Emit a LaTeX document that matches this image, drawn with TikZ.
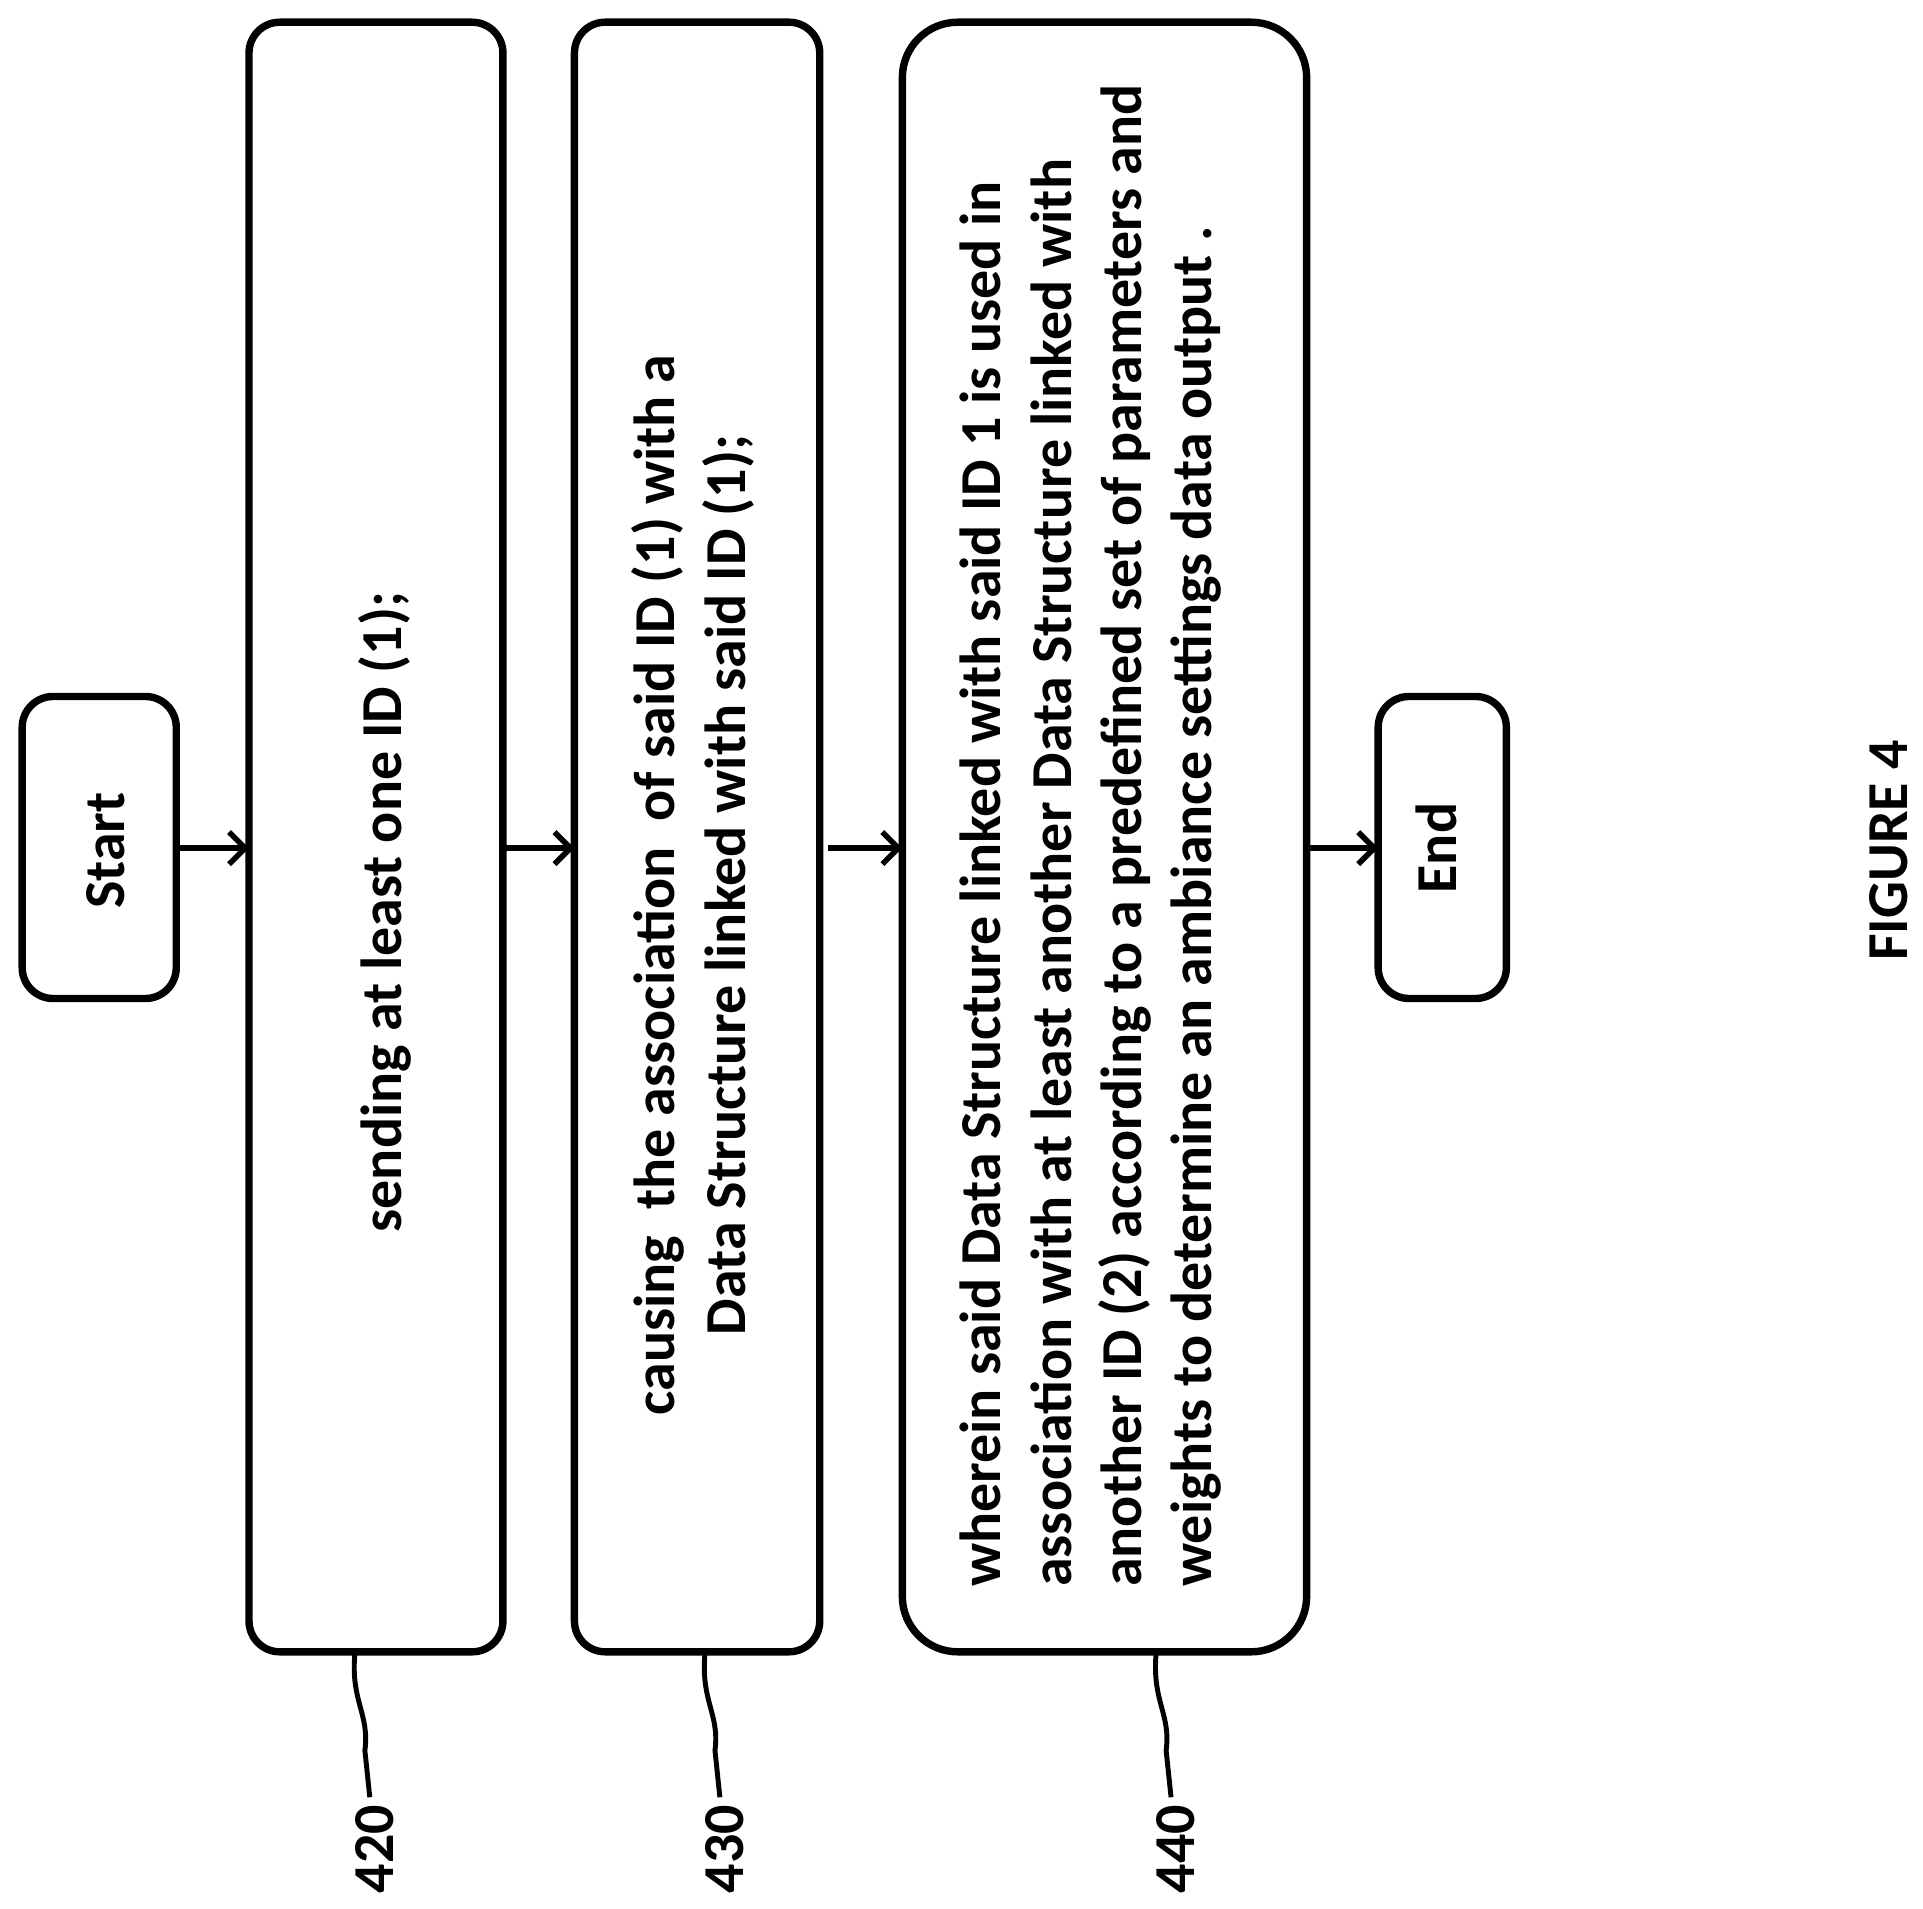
\documentclass[tikz,border=0pt]{standalone}
\usepackage{fontspec}
\setmainfont{Carlito}
\usetikzlibrary{arrows.meta}
\begin{document}
\begin{tikzpicture}[x=1pt,y=-1pt,line width=6pt,
  box/.style={draw,rounded corners=25pt},
  txt/.style={font=\fontsize{47}{57}\selectfont\bfseries,rotate=90},
  arr/.style={->,line width=4.5pt,>={Straight Barb[length=13pt,width=26pt,line width=4.5pt]}}]
\useasboundingbox (0,0) rectangle (1560,1548);
\draw[box] (18,565) rectangle (143,810);
\node[txt] (start) at (86,690) {Start};
\draw[box] (202,18) rectangle (408,1340);
\node[txt] (t420) at (312,740) {sending at least one ID (1);};
\draw[box] (466,18) rectangle (665,1340);
\node[txt,align=center] (t430) at (562,718) {causing\ \ the association\ \ of said ID (1) with a\\Data Structure linked with said ID (1);};
\draw[box,rounded corners=45pt] (732,18) rectangle (1060,1340);
\node[txt,align=left] (t440) at (885,678) {wherein said Data Structure linked with said ID 1 is used in\\association with at least another Data Structure linked with\\another ID (2) according to a predefined set of parameters and\\weights to determine an ambiance settings data output .};
\draw[box] (1118,565) rectangle (1222,810);
\node[txt] (end) at (1165,688) {End};
\coordinate (a1) at (143,688); \coordinate (b1) at (202,688);
\coordinate (a2) at (408,688); \coordinate (b2) at (466,688);
\coordinate (a3) at (672,688); \coordinate (b3) at (732,688);
\coordinate (a4) at (1060,688); \coordinate (b4) at (1118,688);
\draw[arr] (a1)--(b1); \draw[arr] (a2)--(b2); \draw[arr] (a3)--(b3); \draw[arr] (a4)--(b4);
\foreach \x/\l in {288/420,572/430,938/440}{
  \node[txt] (L\l) at (\x+16,1500) {\l};
  \draw[line width=4pt] (\x,1340) .. controls (\x-4,1380) and (\x+12,1390) .. (\x+8,1420) -- (\x+12,1458);
}
\node[txt] (fig) at (1532,690) {FIGURE 4};
\end{tikzpicture}
\end{document}
